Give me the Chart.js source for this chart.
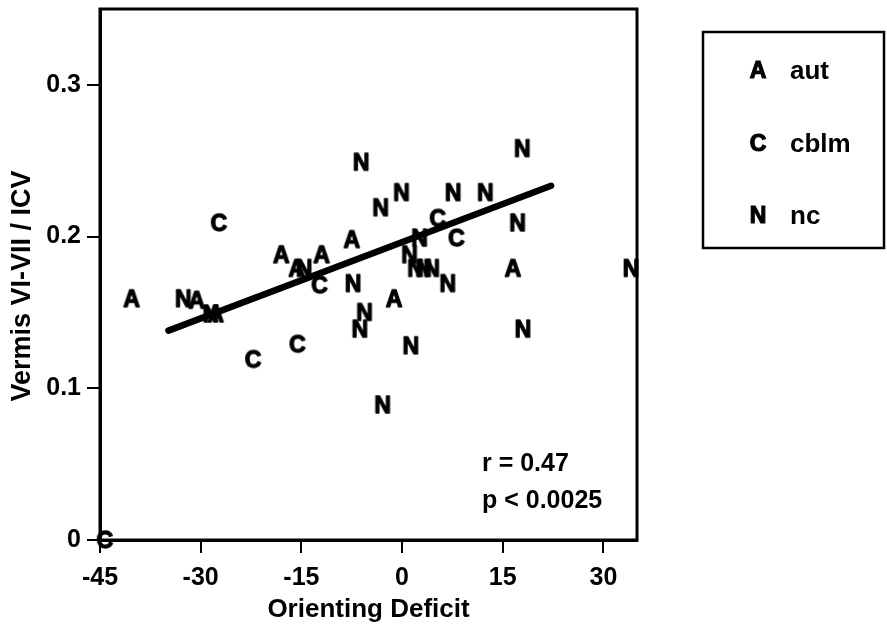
<!DOCTYPE html>
<html>
<head>
<meta charset="utf-8">
<script src="https://cdn.jsdelivr.net/npm/chart.js@4.4.1/dist/chart.umd.min.js"></script>
<style>
  html, body { margin: 0; padding: 0; background: #fff; }
  #wrap { width: 887px; height: 631px; }
</style>
</head>
<body>
<div id="wrap"><canvas id="vermisChart" width="887" height="631"></canvas></div>
<script>
// datos
const autX = [-40.3, -30.6, -27.8, -18.0, -15.7, -12.0, -7.5, -1.2, 16.5];
const autY = [0.159, 0.158, 0.149, 0.188, 0.179, 0.188, 0.198, 0.159, 0.179];

const cblmX = [-44.3, -27.3, -22.2, -15.6, -12.3, 5.3, 8.1];
const cblmY = [0.0, 0.209, 0.119, 0.129, 0.168, 0.212, 0.199];

const ncX = [-32.6, -28.5, -14.6, -6.1, -0.1, -3.2, 7.6, 12.4, 17.9, 17.2, 2.6, 1.1,
             2.0, 3.2, 4.4, 6.8, -7.3, -5.6, -6.3, 1.3, 18.0, -2.9, 34.1];
const ncY = [0.159, 0.149, 0.179, 0.249, 0.229, 0.219, 0.229, 0.229, 0.258, 0.209, 0.199, 0.188,
             0.179, 0.179, 0.179, 0.169, 0.169, 0.150, 0.139, 0.128, 0.139, 0.089, 0.179];

// recta de regresion (extremos)
const fitX = [-34.8, 22.2];
const fitY = [0.138, 0.2335];

const xTicks = [-45, -30, -15, 0, 15, 30];
const yTicks = [0, 0.1, 0.2, 0.3];

const FONT = "'Liberation Sans', Arial, Helvetica, sans-serif";

const toPoints = (xs, ys) => xs.map((x, i) => ({ x: x, y: ys[i] }));

// letra como marcador
const letra = (ch) => {
  const c = document.createElement("canvas");
  c.width = 28; c.height = 28;
  const g = c.getContext("2d");
  g.font = "bold 23px " + FONT;
  g.fillStyle = "#000";
  g.strokeStyle = "#000";
  g.lineWidth = 1.3;
  g.lineJoin = "round";
  g.textAlign = "center";
  g.textBaseline = "alphabetic";
  g.fillText(ch, 14, 22.2);
  g.strokeText(ch, 14, 22.2);
  return c;
};

const marcoPlugin = {
  id: "marco",
  afterDraw(chart) {
    const { ctx, chartArea: a } = chart;
    ctx.save();
    ctx.strokeStyle = "#000";
    ctx.lineWidth = 3;
    ctx.strokeRect(a.left, a.top, a.right - a.left, a.bottom - a.top);

    ctx.fillStyle = "#000";

    // titulo eje y
    ctx.save();
    ctx.translate(23, 286);
    ctx.rotate(-Math.PI / 2);
    ctx.font = "bold 27px " + FONT;
    ctx.textAlign = "center";
    ctx.textBaseline = "middle";
    ctx.fillText("Vermis VI-VII / ICV", 0, 0);
    ctx.restore();

    // texto r / p
    ctx.font = "bold 25px " + FONT;
    ctx.textAlign = "left";
    ctx.textBaseline = "middle";
    ctx.fillText("r = 0.47", 482, 464);
    ctx.fillText("p < 0.0025", 482, 501);

    // leyenda
    ctx.lineWidth = 2.5;
    ctx.strokeRect(703, 32, 181, 216);
    const items = [["A", "aut", 72], ["C", "cblm", 145], ["N", "nc", 217]];
    items.forEach(([l, t, y]) => {
      ctx.font = "bold 23px " + FONT;
      ctx.textAlign = "center";
      ctx.lineWidth = 1.2;
      ctx.fillText(l, 758, y);
      ctx.strokeText(l, 758, y);
      ctx.font = "bold 26px " + FONT;
      ctx.textAlign = "left";
      ctx.fillText(t, 790, y);
    });
    ctx.restore();
  }
};

new Chart(document.getElementById("vermisChart"), {
  type: "scatter",
  data: {
    datasets: [
      {
        type: "line",
        label: "fit",
        data: toPoints(fitX, fitY),
        borderColor: "#000",
        borderWidth: 6.5,
        borderCapStyle: "round",
        pointRadius: 0,
        fill: false,
        order: 0,
      },
      { label: "aut", data: toPoints(autX, autY), pointStyle: letra("A"), clip: false, order: 1 },
      { label: "cblm", data: toPoints(cblmX, cblmY), pointStyle: letra("C"), clip: false, order: 1 },
      { label: "nc", data: toPoints(ncX, ncY), pointStyle: letra("N"), clip: false, order: 1 },
    ],
  },
  options: {
    responsive: false,
    animation: false,
    layout: { padding: { top: 9, right: 250, left: 0, bottom: 0 } },
    plugins: {
      legend: { display: false },
      tooltip: { enabled: false },
    },
    scales: {
      x: {
        type: "linear",
        min: -45,
        max: 35,
        afterFit: (s) => { s.height = 91; s.paddingLeft = 0; s.paddingRight = 0; },
        afterBuildTicks: (s) => { s.ticks = xTicks.map(v => ({ value: v })); },
        grid: { display: true, drawOnChartArea: false, drawTicks: true, tickLength: 13, color: "#000", lineWidth: 2 },
        border: { display: true, color: "#000", width: 3 },
        ticks: {
          color: "#000",
          padding: 10,
          font: { family: FONT, size: 25, weight: "bold" },
          callback: (v) => String(v),
        },
        title: {
          display: true,
          text: "Orienting Deficit",
          color: "#000",
          font: { family: FONT, size: 26, weight: "bold" },
          padding: { top: 4, bottom: 6 },
        },
      },
      y: {
        type: "linear",
        min: 0,
        max: 0.35,
        afterFit: (s) => { s.width = 100; s.paddingTop = 0; s.paddingBottom = 0; },
        afterBuildTicks: (s) => { s.ticks = yTicks.map(v => ({ value: v })); },
        grid: { display: true, drawOnChartArea: false, drawTicks: true, tickLength: 13, color: "#000", lineWidth: 2 },
        border: { display: true, color: "#000", width: 3 },
        ticks: {
          color: "#000",
          padding: 6,
          font: { family: FONT, size: 25, weight: "bold" },
          callback: (v) => (v === 0 ? "0" : Number(v).toFixed(1)),
        },
        title: { display: false },
      },
    },
  },
  plugins: [marcoPlugin],
});
</script>
</body>
</html>
